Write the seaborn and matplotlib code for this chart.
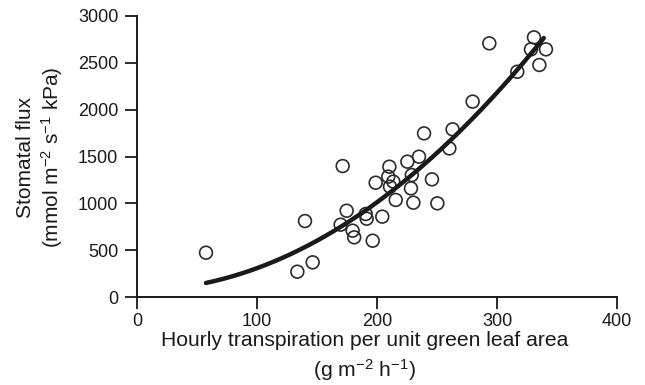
import matplotlib
matplotlib.use("Agg")
import matplotlib.pyplot as plt
import numpy as np
import pandas as pd
import seaborn as sns

# Hourly transpiration (g m-2 h-1) and stomatal flux (mmol m-2 s-1 kPa)
transpiration = [57.5, 133.6, 140, 146.4, 171.4, 169.7, 174.7, 179.7, 181, 190.6,
                 191.4, 196.4, 198.9, 204.4, 209.4, 210.3, 210.8, 213.6, 215.6, 225.3,
                 228.3, 229, 230.3, 235, 239.2, 245.8, 250.3, 260.3, 263, 279.7,
                 293.6, 316.9, 328.3, 330.8, 335.3, 340.8]
stomatal_flux = [473, 270, 811, 370, 1398, 772, 921, 708, 637, 886,
                 836, 601, 1220, 858, 1285, 1391, 1178, 1232, 1036, 1445,
                 1160, 1302, 1007, 1498, 1747, 1256, 1000, 1586, 1790, 2086,
                 2708, 2405, 2644, 2772, 2477, 2644]

# Quadratic fit (highest power first) and its x range
fit_coeffs = [0.02334, 0.035, 70.8]
fit_range = [57.5, 339.0]

x_ticks = [0, 100, 200, 300, 400]
y_ticks = [0, 500, 1000, 1500, 2000, 2500, 3000]

df = pd.DataFrame({"transpiration": transpiration, "flux": stomatal_flux})
fit_x = np.linspace(fit_range[0], fit_range[1], 200)
fit_df = pd.DataFrame({"transpiration": fit_x, "flux": np.polyval(fit_coeffs, fit_x)})

sns.set_theme(style="ticks")
plt.rcParams["font.family"] = ["Liberation Sans", "DejaVu Sans"]
plt.rcParams["mathtext.fontset"] = "custom"
plt.rcParams["mathtext.rm"] = "Liberation Sans"
plt.rcParams["mathtext.it"] = "Liberation Sans"
plt.rcParams["mathtext.default"] = "regular"

W, H = 645, 385
fig = plt.figure(figsize=(W / 100, H / 100), dpi=100)
ax = fig.add_axes([137 / W, 1 - 297 / H, 480 / W, 281 / H])

ink = "#1a1a1a"
sns.scatterplot(data=df, x="transpiration", y="flux", ax=ax, s=85,
                facecolor="none", edgecolor="#2b2b2b", linewidth=1.2, marker="o", zorder=3)
sns.lineplot(data=fit_df, x="transpiration", y="flux", ax=ax, color=ink,
             linewidth=3.2, zorder=4)

ax.set_xlim(0, 400)
ax.set_ylim(0, 3000)
ax.set_xticks(x_ticks)
ax.set_yticks(y_ticks)
ax.tick_params(axis="both", direction="out", length=8.5, width=1.3,
               color=ink, labelsize=13, labelcolor=ink)
ax.tick_params(axis="x", pad=3)
ax.tick_params(axis="y", pad=5)
for side in ("left", "bottom"):
    ax.spines[side].set_linewidth(1.4)
    ax.spines[side].set_color(ink)
sns.despine(ax=ax)
ax.set_xlabel("")
ax.set_ylabel("")

# Axis titles
fig.text(365 / W, 1 - 346 / H, "Hourly transpiration per unit green leaf area",
         fontsize=15.2, color=ink, ha="center", va="baseline")
fig.text(364 / W, 1 - 377 / H, "(g m$^{-2}$ h$^{-1}$)",
         fontsize=15.2, color=ink, ha="center", va="baseline")
fig.text(26 / W, 1 - 157 / H, "Stomatal flux",
         fontsize=15, color=ink, ha="center", va="center", rotation=90)
fig.text(52 / W, 1 - 157 / H, "(mmol m$^{-2}$ s$^{-1}$ kPa)",
         fontsize=15, color=ink, ha="center", va="center", rotation=90)

fig.savefig("out.png", dpi=100)
